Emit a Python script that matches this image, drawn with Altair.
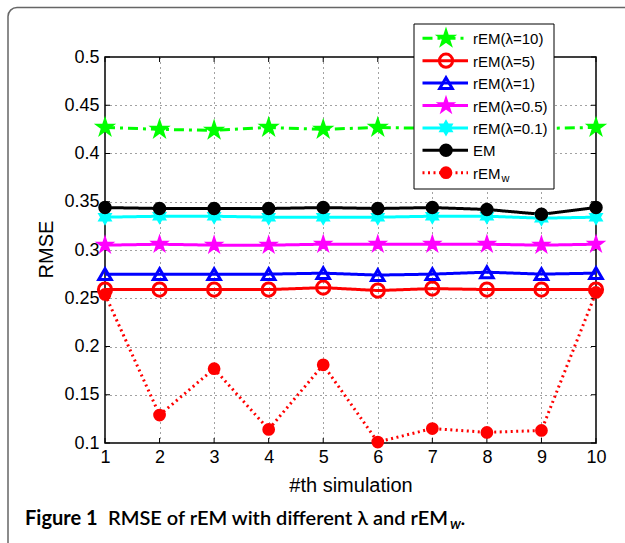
import altair as alt
import pandas as pd

# ---------------- data ----------------
sim = [1, 2, 3, 4, 5, 6, 7, 8, 9, 10]
series_keys = ["rem10", "rem5", "rem1", "rem05", "rem01", "em", "remw"]
legend_labels = ["rEM(λ=10)", "rEM(λ=5)", "rEM(λ=1)", "rEM(λ=0.5)", "rEM(λ=0.1)", "EM", "rEM"]
rem10 = [0.427, 0.425, 0.424, 0.427, 0.425, 0.427, 0.426, 0.426, 0.426, 0.427]
rem5 = [0.259, 0.259, 0.259, 0.259, 0.261, 0.258, 0.260, 0.259, 0.259, 0.259]
rem1 = [0.275, 0.275, 0.275, 0.275, 0.276, 0.274, 0.275, 0.277, 0.275, 0.276]
rem05 = [0.305, 0.306, 0.305, 0.305, 0.306, 0.306, 0.306, 0.306, 0.305, 0.306]
rem01 = [0.334, 0.335, 0.335, 0.334, 0.334, 0.334, 0.335, 0.335, 0.333, 0.334]
em = [0.344, 0.343, 0.343, 0.343, 0.344, 0.343, 0.344, 0.342, 0.337, 0.344]
remw = [0.254, 0.129, 0.177, 0.114, 0.181, 0.101, 0.115, 0.111, 0.113, 0.256]
x_ticks = [1, 2, 3, 4, 5, 6, 7, 8, 9, 10]
y_ticks = [0.1, 0.15, 0.2, 0.25, 0.3, 0.35, 0.4, 0.45, 0.5]
x_title = "#th simulation"
y_title = "RMSE"
caption_bold = "Figure 1"
caption_text = "RMSE of rEM with different λ and rEM"
caption_sub = "w"
caption_end = "."

values = [rem10, rem5, rem1, rem05, rem01, em, remw]

# ---------------- styles ----------------
STAR5 = ("M0,-1L0.2245,-0.309L0.951,-0.309L0.3633,0.118L0.5878,0.809L0,0.382"
         "L-0.5878,0.809L-0.3633,0.118L-0.951,-0.309L-0.2245,-0.309Z")
STAR6 = ("M0,-1L0.2887,-0.5L0.866,-0.5L0.577,0L0.866,0.5L0.2887,0.5L0,1"
         "L-0.2887,0.5L-0.866,0.5L-0.577,0L-0.866,-0.5L-0.2887,-0.5Z")
line_colors = ["#00ff00", "#ff0000", "#0000ff", "#ff00ff", "#00ffff", "#000000", "#ff0000"]
fill_colors = ["#00ff00", "transparent", "transparent", "#ff00ff", "#00ffff", "#000000", "#ff0000"]
dashes = [[10, 5, 3, 5], [1, 0], [1, 0], [1, 0], [1, 0], [1, 0], [2, 3.5]]
line_widths = [3, 3, 3, 3, 3, 3, 1.5]
shapes = [STAR5, "circle", "triangle-up", STAR5, STAR6, "circle", "circle"]
sizes = [190, 95, 130, 190, 230, 60, 95]
marker_stroke = [1.5, 2.5, 2.5, 1.5, 1.5, 1, 1]

W, H = 491, 386
FONT = "Liberation Sans"

rows = []
for k, vals in zip(series_keys, values):
    for s, v in zip(sim, vals):
        rows.append({"series": k, "sim": s, "rmse": v})
df = pd.DataFrame(rows)

xs = alt.Scale(domain=[1, 10], nice=False, zero=False)
ys = alt.Scale(domain=[0.1, 0.5], nice=False, zero=False)
x_axis = alt.Axis(values=x_ticks, grid=True, domain=False, ticks=False, labelPadding=5,
                  labelFont=FONT, labelFontSize=18, labelColor="black", labelFlush=False,
                  title=x_title, titleFont=FONT, titleFontSize=20, titleFontWeight="normal",
                  titleColor="black", titleX=W / 2, titleY=48.7, titleBaseline="alphabetic",
                  titleAlign="center", labelOverlap=False)
y_axis = alt.Axis(values=y_ticks, grid=True, domain=False, ticks=False, labelPadding=6,
                  labelFont=FONT, labelFontSize=18, labelColor="black", labelFlush=False,
                  format="~g", title=y_title, titleFont=FONT, titleFontSize=20,
                  titleFontWeight="normal", titleColor="black", titleAngle=-90,
                  titleX=-52.7, titleY=H / 2 - 1, titleBaseline="alphabetic",
                  titleAlign="center", labelOverlap=False)


def X():
    return alt.X("sim:Q", scale=xs, axis=x_axis)


def Y():
    return alt.Y("rmse:Q", scale=ys, axis=y_axis)


col = alt.Color("series:N", scale=alt.Scale(domain=series_keys, range=line_colors), legend=None)
dash = alt.StrokeDash("series:N", scale=alt.Scale(domain=series_keys, range=dashes), legend=None)
lw = alt.StrokeWidth("series:N", scale=alt.Scale(domain=series_keys, range=line_widths), legend=None)
shp = alt.Shape("series:N", scale=alt.Scale(domain=series_keys, range=shapes), legend=None)
fil = alt.Fill("series:N", scale=alt.Scale(domain=series_keys, range=fill_colors), legend=None)
strk = alt.Stroke("series:N", scale=alt.Scale(domain=series_keys, range=line_colors), legend=None)
sz = alt.Size("series:N", scale=alt.Scale(domain=series_keys, range=sizes), legend=None)
msw = alt.StrokeWidth("series:N", scale=alt.Scale(domain=series_keys, range=marker_stroke), legend=None)

lines = alt.Chart(df).mark_line().encode(x=X(), y=Y(), color=col, strokeDash=dash, strokeWidth=lw,
                                         detail="series:N")
points = alt.Chart(df).mark_point(opacity=1).encode(x=X(), y=Y(), shape=shp, fill=fil, stroke=strk,
                                                    size=sz, strokeWidth=msw)

xt = pd.DataFrame({"sim": x_ticks})
yt = pd.DataFrame({"rmse": y_ticks})
tick_bottom = alt.Chart(xt).mark_rule(color="black", strokeWidth=1).encode(
    x=X(), y=alt.value(H), y2=alt.value(H - 5))
tick_top = alt.Chart(xt).mark_rule(color="black", strokeWidth=1).encode(
    x=X(), y=alt.value(0), y2=alt.value(5))
tick_left = alt.Chart(yt).mark_rule(color="black", strokeWidth=1).encode(
    y=Y(), x=alt.value(0), x2=alt.value(5))
tick_right = alt.Chart(yt).mark_rule(color="black", strokeWidth=1).encode(
    y=Y(), x=alt.value(W), x2=alt.value(W - 5))

main = alt.layer(lines, tick_bottom, tick_top, tick_left, tick_right, points)

# ---------------- legend ----------------
leg = pd.DataFrame({"series": series_keys, "label": legend_labels, "row": list(range(len(series_keys)))})
ly = alt.Y("row:Q", scale=alt.Scale(domain=[0, 6], range=[-18.7, 115.7], nice=False, zero=False), axis=None)
one = pd.DataFrame({"a": [0]})

frame = alt.Chart(one).mark_rect(fill="transparent", stroke="#666666", strokeWidth=1.5,
                                 cornerRadius=9).encode(
    x=alt.value(8 - 105), x2=alt.value(660 - 105), y=alt.value(7.5 - 57), y2=alt.value(600 - 57))
leg_box = alt.Chart(one).mark_rect(fill="white", stroke="black", strokeWidth=1).encode(
    x=alt.value(309), x2=alt.value(449), y=alt.value(-33), y2=alt.value(132))
leg_lines = alt.Chart(leg).mark_rule().encode(
    x=alt.value(317.5), x2=alt.value(363), y=ly, color=col, strokeDash=dash, strokeWidth=lw)
leg_pts = alt.Chart(leg).mark_point(opacity=1).encode(
    x=alt.value(341), y=ly, shape=shp, fill=fil, stroke=strk, size=sz, strokeWidth=msw)
leg_txt = alt.Chart(leg).mark_text(align="left", baseline="middle", font=FONT, fontSize=15,
                                   color="black", dy=1).encode(
    x=alt.value(368), y=ly, text="label:N")
leg_sub = alt.Chart(leg).transform_filter(alt.datum.series == "remw").mark_text(
    align="left", baseline="middle", font=FONT, fontSize=11, color="black", dy=6).encode(
    x=alt.value(396.5), y=ly, text=alt.value(caption_sub))

CAP_FONT = "Lato"
cap1 = alt.Chart(one).mark_text(align="left", baseline="alphabetic", font=CAP_FONT, fontSize=20,
                                fontWeight="bold", color="black").encode(
    x=alt.value(-80), y=alt.value(467.5), text=alt.value(caption_bold))
cap2 = alt.Chart(one).mark_text(align="left", baseline="alphabetic", font=CAP_FONT, fontSize=20,
                                fontWeight=600, color="black").encode(
    x=alt.value(3), y=alt.value(467.5), text=alt.value(caption_text))
cap3 = alt.Chart(one).mark_text(align="left", baseline="alphabetic", font=CAP_FONT, fontSize=15,
                                fontStyle="italic", fontWeight=600, color="black").encode(
    x=alt.value(345), y=alt.value(471.5), text=alt.value(caption_sub))
cap4 = alt.Chart(one).mark_text(align="left", baseline="alphabetic", font=CAP_FONT, fontSize=20,
                                fontWeight=600, color="black").encode(
    x=alt.value(355.5), y=alt.value(467.5), text=alt.value(caption_end))

overlay = alt.layer(frame, leg_box, leg_lines, leg_pts, leg_txt, leg_sub, cap1, cap2, cap3, cap4)

chart = alt.layer(main, overlay).resolve_scale(y="independent", x="independent").properties(
    width=W, height=H,
    autosize=alt.AutoSizeParams(type="none"),
    padding={"left": 105, "top": 57, "right": 29, "bottom": 100},
    background="white",
).configure_view(stroke="black", strokeWidth=1.5).configure_axis(
    gridDash=[1, 4], gridColor="#444444", gridWidth=1, gridOpacity=1)

chart.save("out.html", embed_options={"renderer": "svg", "actions": False})
